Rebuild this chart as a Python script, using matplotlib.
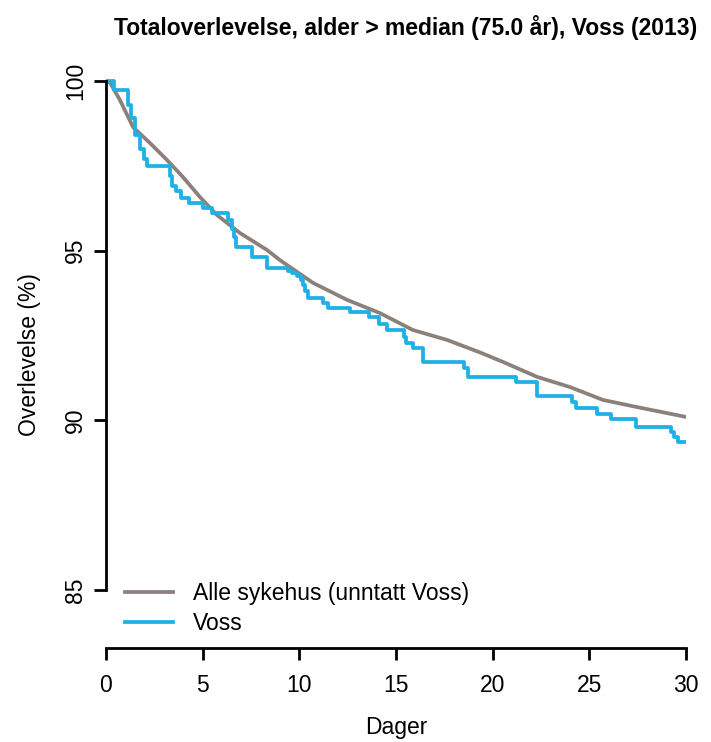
import matplotlib
matplotlib.use("Agg")
import matplotlib.pyplot as plt

plt.rcParams['font.family'] = ['Liberation Sans', 'DejaVu Sans']

# Alle sykehus (unntatt Voss) - overlevelse (%) etter dager
alle_dager = [0, 0.21, 0.72, 1.40, 2.28, 3.16, 3.98, 4.86, 5.74, 6.93, 8.33, 9.0,
              10.71, 12.47, 14.17, 15.88, 17.64, 19.35, 20.54, 22.30, 24.0, 25.71,
              27.47, 30.0]
alle_overlev = [100, 99.95, 99.44, 98.64, 98.17, 97.67, 97.17, 96.58, 96.05, 95.52,
                95.02, 94.72, 94.05, 93.55, 93.16, 92.66, 92.37, 92.0, 91.72, 91.28,
                90.98, 90.6, 90.39, 90.1]

# Voss - trappetrinn (Kaplan-Meier)
voss_dager = [0, 0.4, 1.15, 1.3, 1.5, 1.75, 1.95, 2.1, 3.3, 3.4, 3.6, 3.9, 4.3, 5.0,
              5.5, 6.3, 6.5, 6.6, 6.7, 7.55, 8.35, 9.4, 9.6, 9.9, 10.1, 10.2, 10.3,
              10.45, 11.2, 11.5, 12.6, 13.6, 14.1, 14.55, 15.4, 15.5, 15.9, 16.4,
              18.5, 18.7, 21.2, 22.3, 24.1, 24.3, 25.4, 26.1, 27.4, 29.2, 29.4,
              29.6, 30.0]
voss_overlev = [100, 99.75, 99.3, 98.9, 98.4, 98.0, 97.7, 97.5, 97.2, 96.9, 96.75,
                96.55, 96.4, 96.25, 96.1, 95.9, 95.65, 95.4, 95.1, 94.8, 94.5, 94.4,
                94.35, 94.25, 94.15, 94.0, 93.8, 93.6, 93.45, 93.3, 93.2, 93.05,
                92.85, 92.65, 92.45, 92.28, 92.13, 91.72, 91.55, 91.28, 91.13, 90.72,
                90.55, 90.35, 90.2, 90.05, 89.8, 89.65, 89.5, 89.35, 89.35]

xticks = [0, 5, 10, 15, 20, 25, 30]
yticks = [85, 90, 95, 100]

W, H = 711, 742
fig = plt.figure(figsize=(W / 100, H / 100), dpi=100)
ax = fig.add_axes([106 / W, (H - 648) / H, 580 / W, (648 - 61) / H])

ax.plot(alle_dager, alle_overlev, color='#8c807b', lw=2.7,
        label='Alle sykehus (unntatt Voss)', solid_joinstyle='round')
ax.step(voss_dager, voss_overlev, where='post', color='#1eb0e6', lw=2.7,
        label='Voss')

ax.set_xlim(0, 30)
ax.set_ylim(83.29, 100.59)
ax.set_xticks(xticks)
ax.set_yticks(yticks)
ax.set_yticklabels([str(v) for v in yticks], rotation=90, va='center')

for s in ['top', 'right']:
    ax.spines[s].set_visible(False)
ax.spines['left'].set_bounds(85, 100)
ax.spines['bottom'].set_bounds(0, 30)
ax.spines['left'].set_linewidth(2)
ax.spines['bottom'].set_linewidth(2)
ax.tick_params(axis='both', length=8.5, width=2, labelsize=16.5, colors='black')
ax.tick_params(axis='x', pad=10)
ax.tick_params(axis='y', pad=5)

ax.set_xlabel('Dager', fontsize=16.5, labelpad=14)
ax.set_ylabel('Overlevelse (%)', fontsize=16.5, labelpad=17)

ax.legend(loc='lower left', bbox_to_anchor=(0.017, 0.006), frameon=False,
          fontsize=16.5, handlelength=2.1, handletextpad=0.85, labelspacing=0.3,
          borderaxespad=0)

fig.text(406 / W, 1 - 27 / H, 'Totaloverlevelse, alder > median (75.0 år), Voss (2013)',
         ha='center', va='center', fontsize=16.5, fontweight='bold')

fig.savefig('out.png', dpi=100)
